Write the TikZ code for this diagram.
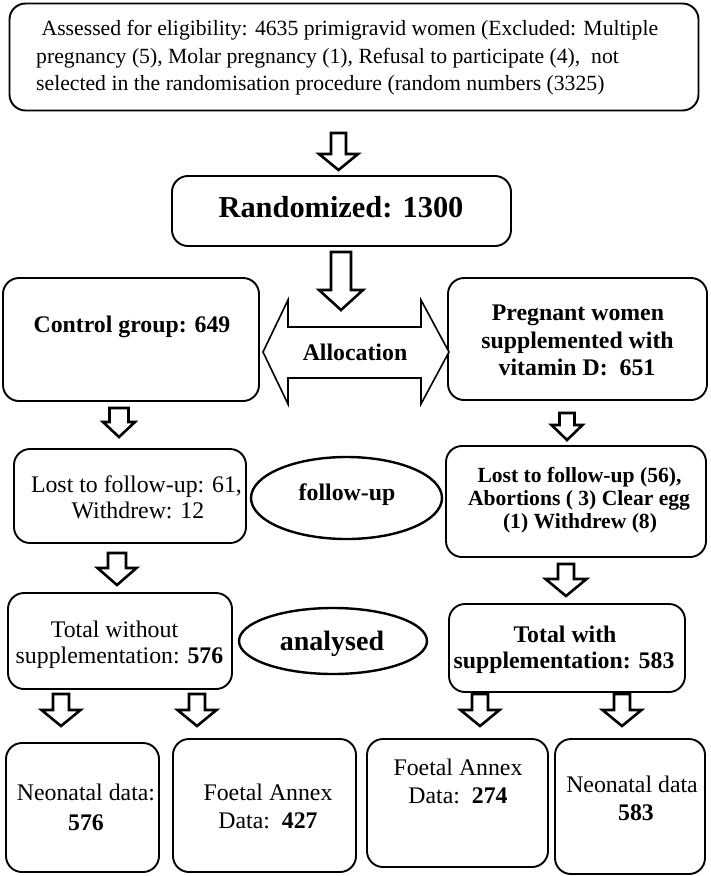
\documentclass[tikz,border=0pt]{standalone}
\usepackage{fontspec}
\setmainfont{Liberation Serif}
\usetikzlibrary{calc,shapes.geometric}
\newcommand{\myfs}[1]{\fontsize{#1}{#1}\selectfont}
\tikzset{
  box/.style={draw, line width=1.9pt, rounded corners=16pt, inner sep=0pt},
  oval/.style={draw, ellipse, line width=2.4pt, inner sep=0pt},
  ln/.style={anchor=base, inner sep=0pt},
  lnw/.style={anchor=base west, inner sep=0pt},
  reg/.style={font=\myfs{23.8}},
  bld/.style={font=\myfs{23.8}\bfseries},
  blk/.style={draw, line width=2.6pt, fill=white, line join=miter},
}
% block arrow from #1 (middle of shaft top) to #2 (tip); #3 shaft half width, #4 head half width, #5 head length
\newcommand{\blockarrow}[5]{%
  \draw[blk] ($(#1)+(-#3,0)$) -- ($(#1)+(#3,0)$) -- ($(#2)+(#3,-#5)$) -- ($(#2)+(#4,-#5)$) -- (#2)
    -- ($(#2)+(-#4,-#5)$) -- ($(#2)+(-#3,-#5)$) -- cycle;}
\begin{document}
\begin{tikzpicture}[x=1pt,y=-1pt]
\useasboundingbox (0,0) rectangle (711,876);
\fill[white] (0,0) rectangle (711,876);

% top box
\node[box, minimum width=689pt, minimum height=107pt] (top) at (354,57) {};
\node[lnw, font=\myfs{21.7}] (topT1) at (36,35) {\ Assessed for eligibility: 4635 primigravid women (Excluded: Multiple};
\node[lnw, font=\myfs{21.7}] (topT2) at (36,63) {pregnancy (5), Molar pregnancy (1), Refusal to participate (4),\ \ not};
\node[lnw, font=\myfs{21.7}] (topT3) at (36,90) {selected in the randomisation procedure (random numbers (3325)};

% randomized
\node[box, minimum width=339pt, minimum height=70pt] (rand) at (341.5,211) {};
\node[ln, font=\myfs{30.4}\bfseries] (randT) at (341,217) {Randomized: 1300};

% control and supplemented
\node[box, minimum width=256pt, minimum height=123pt] (ctrl) at (131,339.5) {};
\node[ln, bld] (ctrlT) at (132,332) {Control group: 649};
\node[box, minimum width=259pt, minimum height=122pt] (supp) at (577.5,339) {};
\node[ln, bld] (suppT1) at (578,320) {Pregnant women};
\node[ln, bld] (suppT2) at (577.5,348) {supplemented with};
\node[ln, bld] (suppT3) at (577,375) {vitamin D:\ \ 651};

% allocation double arrow
\coordinate (allL) at (263,352);
\coordinate (allR) at (449,352);
\draw[line width=1.6pt, fill=white, line join=miter] (allL) -- (288,300) -- (288,327) -- (421,327) -- (421,300) -- (allR)
  -- (421,404) -- (421,378) -- (288,378) -- (288,404) -- cycle;
\node[ln, bld] (allT) at (355,360) {Allocation};

% arrows
\coordinate (a1s) at (338.5,133); \coordinate (a1e) at (338.5,170);
\blockarrow{a1s}{a1e}{7.5}{19.5}{16}
\coordinate (a2s) at (341,252); \coordinate (a2e) at (341,310);
\blockarrow{a2s}{a2e}{10}{22}{20}

% lost boxes
\node[box, minimum width=232pt, minimum height=94pt] (lostL) at (130,496) {};
\node[ln, reg] (lostLT1) at (136.5,492) {Lost to follow-up: 61,};
\node[ln, reg] (lostLT2) at (138,518) {Withdrew: 12};
\node[oval, minimum width=191pt, minimum height=82pt] (fu) at (346.5,498) {};
\node[ln, bld] (fuT) at (347,500) {follow-up};
\node[box, minimum width=260pt, minimum height=111pt] (lostR) at (576,501.5) {};
\node[ln, font=\myfs{21.6}\bfseries] (lostRT1) at (579.5,482) {Lost to follow-up (56),};
\node[ln, font=\myfs{21.6}\bfseries] (lostRT2) at (579,505) {Abortions ( 3) Clear egg};
\node[ln, font=\myfs{21.6}\bfseries] (lostRT3) at (580,528) {(1) Withdrew (8)};

\coordinate (a3s) at (119,408); \coordinate (a3e) at (119,437);
\blockarrow{a3s}{a3e}{9.5}{16}{15}
\coordinate (a4s) at (567,413); \coordinate (a4e) at (567,440);
\blockarrow{a4s}{a4e}{7.5}{15.5}{15}

% totals
\node[box, minimum width=224pt, minimum height=96pt] (totL) at (120,641) {};
\node[ln, reg] (totLT1) at (114.5,637) {Total without};
\node[ln, reg] (totLT2) at (119.5,663) {supplementation: \textbf{576}};
\node[oval, minimum width=188pt, minimum height=66pt] (an) at (333,641) {};
\node[ln, font=\myfs{28}\bfseries] (anT) at (332,650) {analysed};
\node[box, minimum width=236pt, minimum height=88pt] (totR) at (567,648) {};
\node[ln, bld] (totRT1) at (565,642) {Total with};
\node[ln, bld] (totRT2) at (564,668) {supplementation: 583};

\coordinate (a5s) at (117,553); \coordinate (a5e) at (117,585);
\blockarrow{a5s}{a5e}{9}{19.5}{17}
\coordinate (a6s) at (566,564); \coordinate (a6e) at (566,596);
\blockarrow{a6s}{a6e}{8}{20.5}{17}

% bottom boxes
\node[box, minimum width=153pt, minimum height=129pt] (b1) at (82.5,807.5) {};
\node[ln, reg] (b1T1) at (86,800) {Neonatal data:};
\node[ln, bld] (b1T2) at (86,830) {576};
\node[box, minimum width=183pt, minimum height=133pt] (b2) at (264.5,805.5) {};
\node[ln, reg] (b2T1) at (268,800) {Foetal Annex};
\node[ln, reg] (b2T2) at (268,828) {Data:\ \ \textbf{427}};
\node[box, minimum width=181pt, minimum height=128pt] (b3) at (457.5,803) {};
\node[ln, reg] (b3T1) at (458,775) {Foetal Annex};
\node[ln, reg] (b3T2) at (458,803) {Data:\ \ \textbf{274}};
\node[box, minimum width=150pt, minimum height=135pt] (b4) at (630,806.5) {};
\node[ln, reg] (b4T1) at (632,792) {Neonatal data};
\node[ln, bld] (b4T2) at (636,820) {583};

\coordinate (a7s) at (61,694); \coordinate (a7e) at (61,726);
\blockarrow{a7s}{a7e}{8}{19.5}{16}
\coordinate (a8s) at (197,694); \coordinate (a8e) at (197,726);
\blockarrow{a8s}{a8e}{8}{19.5}{16}
\coordinate (a9s) at (480,694); \coordinate (a9e) at (480,726);
\blockarrow{a9s}{a9e}{8}{19.5}{16}
\coordinate (a10s) at (622,694); \coordinate (a10e) at (622,726);
\blockarrow{a10s}{a10e}{8}{19.5}{16}
\end{tikzpicture}
\end{document}
